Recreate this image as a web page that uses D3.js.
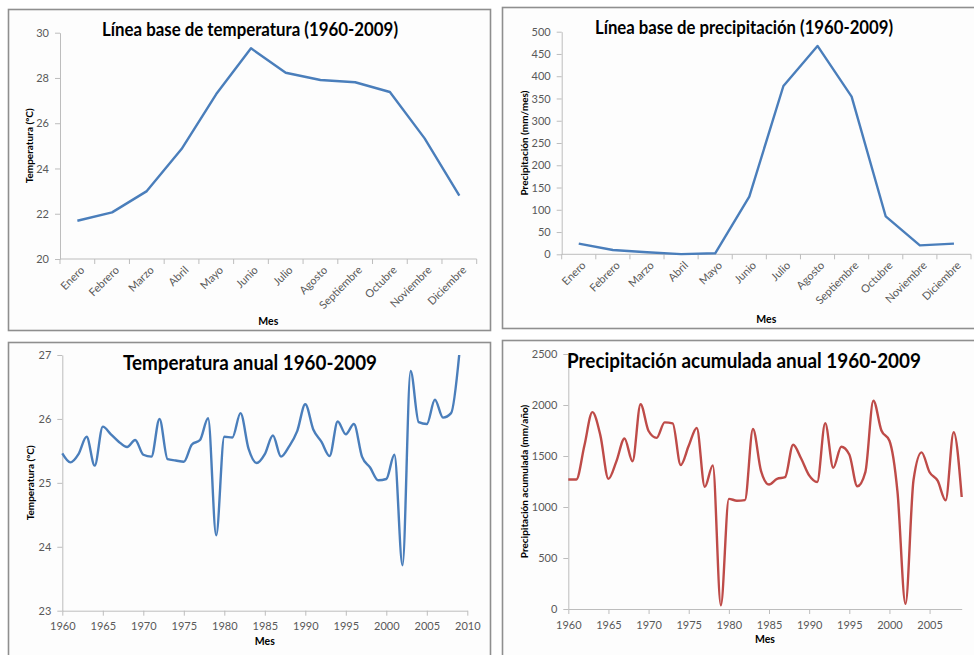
<!DOCTYPE html>
<html>
<head>
<meta charset="utf-8">
<script src="https://cdn.jsdelivr.net/npm/d3@7"></script>
<style>
  html, body { margin: 0; padding: 0; background: #ffffff; }
  svg { display: block; font-family: Lato, "Open Sans", sans-serif; }
</style>
</head>
<body>
<svg id="chart" width="974" height="655"></svg>
<script>
// Monthly baselines 1960-2009
const months = ["Enero", "Febrero", "Marzo", "Abril", "Mayo", "Junio", "Julio",
  "Agosto", "Septiembre", "Octubre", "Noviembre", "Diciembre"];
const tempMonthly = [21.69, 22.06, 23.0, 24.86, 27.29, 29.31, 28.23, 27.91, 27.81, 27.38, 25.33, 22.80];
const precipMonthly = [24, 9.7, 4.5, 0.5, 2.2, 129.5, 378, 468, 354, 85, 20, 24];

// Annual series 1960-2009
const years = [1960, 1961, 1962, 1963, 1964, 1965, 1966, 1967, 1968, 1969,
  1970, 1971, 1972, 1973, 1974, 1975, 1976, 1977, 1978, 1979,
  1980, 1981, 1982, 1983, 1984, 1985, 1986, 1987, 1988, 1989,
  1990, 1991, 1992, 1993, 1994, 1995, 1996, 1997, 1998, 1999,
  2000, 2001, 2002, 2003, 2004, 2005, 2006, 2007, 2008, 2009];
const tempAnnual = [25.46, 25.32, 25.45, 25.72, 25.27, 25.88, 25.76, 25.64, 25.56, 25.67,
  25.44, 25.41, 26.00, 25.37, 25.35, 25.33, 25.60, 25.67, 26.01, 24.18,
  25.72, 25.71, 26.09, 25.53, 25.31, 25.45, 25.74, 25.41, 25.57, 25.81,
  26.23, 25.83, 25.64, 25.42, 25.96, 25.76, 25.92, 25.41, 25.24, 25.04,
  25.06, 25.44, 23.71, 26.75, 25.95, 25.92, 26.30, 26.02, 26.09, 27.00];
const precipAnnual = [1270, 1270, 1600, 1930, 1700, 1276, 1450, 1672, 1448, 2008,
  1745, 1678, 1830, 1820, 1412, 1600, 1775, 1197, 1408, 37,
  1080, 1062, 1068, 1765, 1355, 1220, 1276, 1292, 1610, 1475,
  1310, 1245, 1822, 1385, 1591, 1515, 1203, 1342, 2042, 1750,
  1650, 1150, 50, 1265, 1536, 1341, 1258, 1066, 1733, 1098];

// Tick values
const tempMonthlyTicks = [20, 22, 24, 26, 28, 30];
const precipMonthlyTicks = [0, 50, 100, 150, 200, 250, 300, 350, 400, 450, 500];
const tempAnnualTicks = [23, 24, 25, 26, 27];
const precipAnnualTicks = [0, 500, 1000, 1500, 2000, 2500];
const yearTicksTemp = [1960, 1965, 1970, 1975, 1980, 1985, 1990, 1995, 2000, 2005, 2010];
const yearTicksPrecip = [1960, 1965, 1970, 1975, 1980, 1985, 1990, 1995, 2000, 2005];

const BLUE = "#4a7ebb";
const RED = "#be4b48";
const AXIS = "#bdbdbd";
const LABEL = "#595959";

const svg = d3.select("#chart");

// Panel frames
const frames = [
  {x: 8.5, y: 9.5, w: 482, h: 321},
  {x: 502.5, y: 7.5, w: 480, h: 321},
  {x: 8.5, y: 342.5, w: 482, h: 330},
  {x: 502.5, y: 340.5, w: 480, h: 330}
];
svg.selectAll("rect.frame").data(frames).join("rect")
  .attr("class", "frame")
  .attr("x", d => d.x).attr("y", d => d.y)
  .attr("width", d => d.w).attr("height", d => d.h)
  .attr("fill", "#fdfdfd").attr("stroke", "#8f8f8f").attr("stroke-width", 1.6);

function title(g, text, cx, y, len, size) {
  g.append("text").attr("x", cx).attr("y", y)
    .attr("text-anchor", "middle").attr("font-weight", "bold")
    .attr("font-size", size).attr("fill", "#000")
    .attr("textLength", len).attr("lengthAdjust", "spacingAndGlyphs")
    .text(text);
}

function yAxis(g, y, x0, ticks, fmt) {
  const ax = g.append("g").attr("transform", `translate(${x0},0)`)
    .call(d3.axisLeft(y).tickValues(ticks).tickSize(5).tickSizeOuter(0).tickPadding(6).tickFormat(fmt || d3.format("d")));
  ax.select(".domain").attr("stroke", AXIS);
  ax.selectAll(".tick line").attr("stroke", AXIS);
  ax.selectAll(".tick text").attr("fill", LABEL).attr("font-size", 11).attr("font-family", "Lato, sans-serif");
}

function axisTitleY(g, text, x, cy) {
  g.append("text").attr("transform", `translate(${x},${cy}) rotate(-90)`)
    .attr("text-anchor", "middle").attr("dy", "0.35em")
    .attr("font-weight", "bold").attr("font-size", 10).attr("fill", "#000")
    .text(text);
}

function axisTitleX(g, text, cx, y) {
  g.append("text").attr("x", cx).attr("y", y)
    .attr("text-anchor", "middle").attr("font-weight", "bold")
    .attr("font-size", 10.5).attr("fill", "#000").text(text);
}

// Monthly category chart
function monthlyPanel(opt) {
  const g = svg.append("g");
  const x = d3.scaleBand().domain(months).range([opt.x0, opt.x1]);
  const y = d3.scaleLinear().domain(opt.domain).range([opt.yb, opt.yt]);

  // category axis with ticks on band boundaries
  g.append("line").attr("x1", opt.x0).attr("x2", opt.x1)
    .attr("y1", opt.yb).attr("y2", opt.yb).attr("stroke", AXIS);
  const edges = months.map(m => x(m)).concat([opt.x1]);
  g.selectAll("line.ct").data(edges).join("line").attr("class", "ct")
    .attr("x1", d => d).attr("x2", d => d)
    .attr("y1", opt.yb).attr("y2", opt.yb + 5).attr("stroke", AXIS);
  g.selectAll("text.cl").data(months).join("text").attr("class", "cl")
    .attr("transform", d => `translate(${x(d) + x.bandwidth() / 2 + 5},${opt.yb + 9}) rotate(-45)`)
    .attr("text-anchor", "end").attr("dy", "0.35em")
    .attr("font-size", 11).attr("fill", LABEL).text(d => d);

  yAxis(g, y, opt.x0, opt.ticks);

  const line = d3.line()
    .x((d, i) => x(months[i]) + x.bandwidth() / 2)
    .y(d => y(d));
  g.append("path").datum(opt.values).attr("d", line)
    .attr("fill", "none").attr("stroke", BLUE).attr("stroke-width", 2.4)
    .attr("stroke-linejoin", "round");

  title(g, opt.title, opt.tx, opt.ty, opt.tlen, 18.5);
  axisTitleY(g, opt.ytitle, opt.ytx, (opt.yb + opt.yt) / 2);
  axisTitleX(g, "Mes", (opt.x0 + opt.x1) / 2, opt.mesY);
}

// Annual smoothed chart
function annualPanel(opt) {
  const g = svg.append("g");
  const x = d3.scaleLinear().domain(opt.xdomain).range([opt.x0, opt.x1]);
  const y = d3.scaleLinear().domain(opt.domain).range([opt.yb, opt.yt]);

  const ax = g.append("g").attr("transform", `translate(0,${opt.yb})`)
    .call(d3.axisBottom(x).tickValues(opt.xticks).tickSize(5).tickSizeOuter(0).tickPadding(7).tickFormat(d3.format("d")));
  ax.select(".domain").attr("stroke", AXIS);
  ax.selectAll(".tick line").attr("stroke", AXIS);
  ax.selectAll(".tick text").attr("fill", LABEL).attr("font-size", 11).attr("font-family", "Lato, sans-serif");

  yAxis(g, y, opt.x0, opt.ticks);

  const line = d3.line()
    .x((d, i) => x(years[i]))
    .y(d => y(d))
    .curve(d3.curveMonotoneX);
  g.append("path").datum(opt.values).attr("d", line)
    .attr("fill", "none").attr("stroke", opt.color).attr("stroke-width", 2.4)
    .attr("stroke-linejoin", "round");

  title(g, opt.title, opt.tx, opt.ty, opt.tlen, 20);
  axisTitleY(g, opt.ytitle, opt.ytx, (opt.yb + opt.yt) / 2);
  axisTitleX(g, "Mes", (opt.x0 + opt.x1) / 2, opt.mesY);
}

monthlyPanel({
  x0: 60, x1: 476.7, yb: 259, yt: 32.7, domain: [20, 30], ticks: tempMonthlyTicks,
  values: tempMonthly, title: "Línea base de temperatura (1960-2009)",
  tx: 250, ty: 36, tlen: 296, ytitle: "Temperatura (°C)", ytx: 29, mesY: 325
});

monthlyPanel({
  x0: 561.7, x1: 971, yb: 254.3, yt: 31.7, domain: [0, 500], ticks: precipMonthlyTicks,
  values: precipMonthly, title: "Línea base de precipitación (1960-2009)",
  tx: 744, ty: 34, tlen: 298, ytitle: "Precipitación (mm/mes)", ytx: 524, mesY: 323
});

annualPanel({
  x0: 62.3, x1: 467.3, xdomain: [1960, 2010], xticks: yearTicksTemp,
  yb: 610.7, yt: 355, domain: [23, 27], ticks: tempAnnualTicks,
  values: tempAnnual, color: BLUE, title: "Temperatura anual 1960-2009",
  tx: 250, ty: 370, tlen: 254, ytitle: "Temperatura (°C)", ytx: 30, mesY: 645
});

annualPanel({
  x0: 568.3, x1: 961.7, xdomain: [1960, 2009], xticks: yearTicksPrecip,
  yb: 609, yt: 354, domain: [0, 2500], ticks: precipAnnualTicks,
  values: precipAnnual, color: RED, title: "Precipitación acumulada anual 1960-2009",
  tx: 744, ty: 368, tlen: 354, ytitle: "Precipitación acumulada (mm/año)", ytx: 524, mesY: 643
});
</script>
</body>
</html>
